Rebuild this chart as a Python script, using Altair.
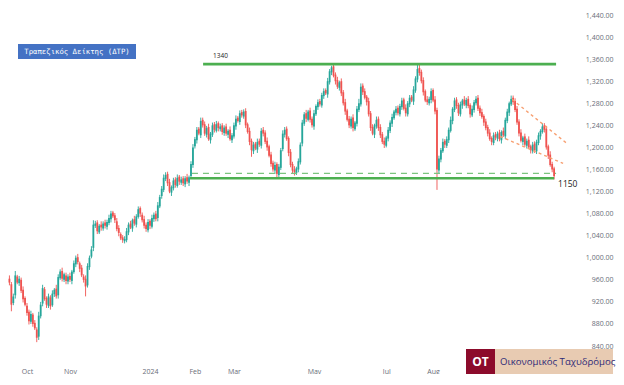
import altair as alt
import pandas as pd

# ---- candle data (trading-day index 5..284) ----
first_index = 5
opens = [
    962, 952, 918, 932, 966, 954, 960, 942, 927, 913,
    902, 884, 897, 882, 870, 857, 894, 917, 943, 927,
    913, 928, 914, 934, 944, 932, 963, 976, 960, 968,
    957, 967, 958, 974, 988, 1001, 990, 982, 966, 962,
    950, 983, 1002, 1018, 1058, 1064, 1046, 1060, 1053, 1064,
    1056, 1063, 1070, 1082, 1077, 1066, 1054, 1043, 1037, 1030,
    1032, 1046, 1062, 1053, 1070, 1060, 1074, 1090, 1078, 1070,
    1060, 1050, 1067, 1056, 1070, 1080, 1072, 1093, 1112, 1123,
    1143, 1152, 1137, 1118, 1126, 1142, 1130, 1147, 1136, 1144,
    1133, 1146, 1136, 1148, 1168, 1202, 1213, 1234, 1222, 1250,
    1242, 1223, 1237, 1213, 1223, 1242, 1230, 1244, 1233, 1240,
    1226, 1238, 1223, 1232, 1213, 1220, 1238, 1254, 1246, 1264,
    1256, 1266, 1242, 1230, 1212, 1193, 1207, 1196, 1212, 1203,
    1232, 1227, 1212, 1202, 1187, 1172, 1158, 1170, 1150, 1163,
    1197, 1223, 1234, 1217, 1192, 1170, 1160, 1153, 1160, 1173,
    1207, 1243, 1262, 1250, 1267, 1252, 1238, 1260, 1273, 1284,
    1276, 1293, 1304, 1296, 1318, 1336, 1347, 1332, 1322, 1308,
    1320, 1300, 1282, 1267, 1252, 1238, 1254, 1233, 1243, 1268,
    1278, 1312, 1302, 1292, 1284, 1262, 1237, 1223, 1238, 1252,
    1237, 1224, 1212, 1203, 1216, 1230, 1243, 1253, 1263, 1272,
    1260, 1273, 1287, 1272, 1260, 1278, 1292, 1283, 1303, 1323,
    1344, 1337, 1322, 1302, 1287, 1280, 1286, 1304, 1287, 1268,
    1158, 1178, 1193, 1212, 1203, 1213, 1230, 1248, 1268, 1287,
    1277, 1260, 1276, 1287, 1276, 1288, 1277, 1258, 1268, 1280,
    1290, 1272, 1264, 1257, 1247, 1237, 1227, 1217, 1208, 1224,
    1216, 1227, 1213, 1230, 1220, 1248, 1263, 1278, 1290, 1284,
    1270, 1247, 1227, 1210, 1220, 1203, 1214, 1202, 1193, 1207,
    1193, 1208, 1220, 1228, 1240, 1234, 1202, 1187, 1170, 1162,
]
closes = [
    955, 915, 930, 968, 955, 962, 940, 925, 915, 900,
    885, 898, 880, 872, 855, 895, 915, 945, 925, 915,
    930, 912, 935, 942, 930, 965, 975, 962, 970, 958,
    966, 960, 975, 990, 1000, 992, 980, 968, 960, 948,
    985, 1000, 1015, 1060, 1062, 1048, 1058, 1055, 1062, 1058,
    1065, 1072, 1080, 1075, 1068, 1052, 1045, 1035, 1032, 1034,
    1048, 1060, 1055, 1068, 1062, 1075, 1088, 1080, 1068, 1058,
    1052, 1065, 1058, 1072, 1078, 1070, 1095, 1110, 1125, 1145,
    1150, 1135, 1120, 1128, 1140, 1132, 1145, 1138, 1142, 1135,
    1144, 1138, 1146, 1170, 1200, 1215, 1232, 1225, 1248, 1240,
    1225, 1235, 1215, 1225, 1240, 1232, 1242, 1235, 1238, 1228,
    1236, 1225, 1230, 1215, 1222, 1240, 1252, 1248, 1262, 1258,
    1265, 1240, 1228, 1210, 1195, 1205, 1198, 1210, 1205, 1230,
    1225, 1210, 1200, 1185, 1170, 1160, 1168, 1152, 1165, 1195,
    1225, 1232, 1215, 1190, 1168, 1158, 1155, 1162, 1175, 1205,
    1245, 1260, 1252, 1265, 1250, 1240, 1262, 1275, 1282, 1278,
    1295, 1302, 1298, 1320, 1338, 1345, 1330, 1320, 1310, 1318,
    1298, 1280, 1265, 1250, 1240, 1252, 1235, 1245, 1270, 1280,
    1310, 1300, 1290, 1282, 1260, 1235, 1225, 1240, 1250, 1235,
    1222, 1210, 1205, 1218, 1232, 1245, 1255, 1265, 1270, 1262,
    1275, 1285, 1270, 1262, 1280, 1290, 1285, 1305, 1325, 1342,
    1335, 1320, 1300, 1285, 1282, 1288, 1302, 1285, 1265, 1160,
    1180, 1195, 1210, 1205, 1215, 1232, 1250, 1270, 1285, 1275,
    1262, 1278, 1285, 1278, 1286, 1275, 1260, 1270, 1282, 1288,
    1270, 1262, 1255, 1245, 1235, 1225, 1215, 1210, 1222, 1218,
    1225, 1215, 1228, 1222, 1250, 1265, 1280, 1288, 1282, 1268,
    1245, 1225, 1212, 1218, 1205, 1212, 1200, 1195, 1205, 1195,
    1210, 1222, 1230, 1238, 1232, 1200, 1185, 1168, 1160, 1148,
]
wick_hi = [
    6, 4, 5, 8, 3, 5, 4, 6, 3, 5,
    4, 6, 3, 5, 4, 7, 5, 6, 4, 3,
    5, 4, 6, 3, 7, 5, 4, 6, 3, 5,
    4, 6, 3, 5, 4, 6, 3, 5, 4, 6,
    5, 4, 6, 8, 5, 4, 3, 6, 4, 5,
    4, 6, 5, 3, 4, 6, 5, 3, 4, 5,
    6, 4, 5, 3, 6, 4, 5, 3, 4, 6,
    4, 5, 3, 6, 4, 5, 6, 4, 5, 6,
    5, 4, 6, 3, 5, 4, 6, 3, 5, 4,
    4, 6, 3, 5, 6, 4, 5, 3, 6, 4,
    5, 4, 6, 3, 5, 4, 6, 3, 5, 4,
    4, 5, 3, 6, 4, 5, 6, 3, 5, 4,
    4, 5, 3, 6, 4, 5, 3, 6, 4, 5,
    5, 4, 6, 3, 5, 4, 6, 3, 5, 4,
    6, 5, 4, 3, 5, 4, 6, 3, 5, 4,
    5, 4, 6, 3, 5, 4, 6, 3, 5, 4,
    4, 5, 3, 6, 4, 3, 5, 4, 6, 3,
    5, 4, 6, 3, 5, 4, 6, 3, 5, 8,
    6, 4, 5, 3, 6, 4, 5, 3, 6, 4,
    5, 4, 6, 3, 5, 4, 6, 3, 5, 4,
    4, 5, 3, 6, 4, 5, 3, 6, 4, 9,
    6, 4, 5, 3, 6, 4, 5, 3, 6, 4,
    5, 4, 6, 3, 5, 4, 6, 3, 5, 4,
    4, 5, 3, 6, 4, 5, 3, 6, 4, 5,
    5, 4, 6, 3, 5, 4, 6, 3, 5, 4,
    4, 5, 3, 6, 4, 5, 3, 6, 4, 5,
    5, 4, 6, 3, 5, 4, 6, 3, 5, 4,
    4, 5, 3, 6, 4, 5, 3, 6, 4, 3,
]
wick_lo = [
    5, 12, 4, 6, 3, 5, 4, 6, 3, 5,
    6, 4, 5, 3, 8, 6, 4, 5, 3, 6,
    4, 6, 3, 5, 4, 6, 3, 5, 4, 6,
    5, 4, 6, 3, 5, 4, 6, 3, 5, 18,
    4, 5, 3, 6, 4, 5, 3, 6, 4, 5,
    5, 4, 6, 3, 5, 4, 6, 3, 5, 4,
    4, 5, 3, 6, 4, 5, 3, 6, 4, 5,
    5, 4, 6, 3, 5, 4, 6, 3, 5, 4,
    4, 5, 3, 6, 4, 5, 3, 6, 4, 5,
    5, 4, 6, 3, 5, 4, 6, 3, 5, 4,
    4, 5, 3, 6, 4, 5, 3, 6, 4, 5,
    5, 4, 6, 3, 5, 4, 6, 3, 5, 4,
    4, 5, 3, 6, 12, 5, 3, 6, 4, 5,
    5, 4, 6, 3, 5, 4, 6, 9, 5, 4,
    4, 5, 3, 6, 4, 5, 6, 3, 5, 4,
    5, 4, 6, 3, 5, 4, 6, 3, 5, 4,
    4, 5, 3, 6, 4, 5, 3, 6, 4, 5,
    5, 4, 6, 3, 5, 4, 6, 3, 5, 4,
    4, 5, 3, 6, 4, 5, 3, 6, 4, 5,
    5, 4, 6, 3, 5, 4, 6, 3, 5, 4,
    4, 5, 3, 6, 4, 5, 3, 6, 4, 5,
    5, 4, 6, 3, 5, 4, 6, 3, 5, 37,
    6, 5, 3, 6, 4, 5, 3, 6, 4, 5,
    5, 4, 6, 3, 5, 4, 6, 3, 5, 4,
    4, 5, 3, 6, 4, 5, 3, 6, 4, 5,
    5, 4, 6, 3, 5, 4, 6, 3, 5, 4,
    4, 5, 3, 6, 4, 5, 3, 6, 4, 5,
    5, 4, 6, 3, 5, 4, 6, 3, 5, 6,
]

# ---- axis labels ----
month_pos = [14, 36, 77, 100, 120, 161, 198, 222]
month_lab = ["Oct", "Nov", "2024", "Feb", "Mar", "May", "Jul", "Aug"]
price_ticks = [840, 880, 920, 960, 1000, 1040, 1080, 1120, 1160, 1200,
               1240, 1280, 1320, 1360, 1400, 1440]

# ---- annotation levels ----
level_names = ["resistance", "support"]
level_x0 = [104.2, 97.5]
level_x1 = [285.0, 284.0]
level_y = [1351, 1144]
dash_x0 = [98.5]
dash_x1 = [285.0]
dash_y = [1153]
trend_x0 = [262.5, 256.3]
trend_y0 = [1287, 1220]
trend_x1 = [290.6, 288.6]
trend_y1 = [1207, 1171]
note_text = ["1340", "1150"]
note_x = [109.3, 286.0]
note_y = [1366, 1134]

title_text = "Τραπεζικός Δείκτης (ΔΤΡ)"
brand_mark = "ΟΤ"
brand_name = "Οικονομικός Ταχυδρόμος"

UP = "#26a69a"
DOWN = "#ef5350"

n = len(closes)
idx = list(range(first_index, first_index + n))
highs = [max(o, c) + w for o, c, w in zip(opens, closes, wick_hi)]
lows = [min(o, c) - w for o, c, w in zip(opens, closes, wick_lo)]
df = pd.DataFrame({"i": idx, "open": opens[:n], "close": closes,
                   "high": highs, "low": lows})
df["dir"] = ["up" if c >= o else "down" for o, c in zip(df["open"], df["close"])]

label_expr = " : ".join(f"datum.value == {p} ? '{l}'" for p, l in zip(month_pos, month_lab)) + " : ''"

PLOT_W, PLOT_H = 584, 358
xscale = alt.Scale(domain=[4.27, 303.4], nice=False, zero=False, padding=0)
yscale = alt.Scale(domain=[803.8, 1452.7], nice=False, zero=False, padding=0)
xaxis = alt.Axis(values=month_pos, labelExpr=label_expr, grid=False, domain=False,
                 ticks=False, tickSize=0, labelPadding=1, labelFontSize=7,
                 labelColor="#6a6d78", labelFont="Open Sans", labelFlush=False,
                 labelOverlap=False, title=None)
yaxis = alt.Axis(orient="right", values=price_ticks, format=",.2f", grid=False,
                 domain=False, ticks=False, tickSize=0, labelAlign="right",
                 labelPadding=21, labelFontSize=7, labelColor="#6a6d78",
                 labelFont="Open Sans", labelFlush=False, labelOverlap=False,
                 labelBaseline="middle", title=None)


def X(f):
    return alt.X(f, type="quantitative", scale=xscale, axis=xaxis, title=None)


def Y(f):
    return alt.Y(f, type="quantitative", scale=yscale, axis=yaxis, title=None)


color = alt.Color("dir:N", scale=alt.Scale(domain=["up", "down"], range=[UP, DOWN]), legend=None)

base = alt.Chart(df)
wicks = base.mark_rule(strokeWidth=0.9).encode(x=X("i"), y=Y("low"), y2="high", color=color)
bodies = base.mark_bar(size=1.8).encode(x=X("i"), y=Y("open"), y2="close", color=color)

lv = pd.DataFrame({"name": level_names, "x0": level_x0, "x1": level_x1, "y": level_y})
levels = alt.Chart(lv).mark_rule(color="#4caf50", strokeWidth=2.6).encode(
    x=X("x0"), x2="x1", y=Y("y"))

dv = pd.DataFrame({"x0": dash_x0, "x1": dash_x1, "y": dash_y})
dashed = alt.Chart(dv).mark_rule(color="#7cc47f", strokeWidth=1.4, strokeDash=[6, 5]).encode(
    x=X("x0"), x2="x1", y=Y("y"))

tv = pd.DataFrame({"x0": trend_x0, "y0": trend_y0, "x1": trend_x1, "y1": trend_y1})
trends = alt.Chart(tv).mark_rule(color="#f7a072", strokeWidth=1.4, strokeDash=[3, 3]).encode(
    x=X("x0"), x2="x1", y=Y("y0"), y2="y1")

nv = pd.DataFrame({"t": note_text, "x": note_x, "y": note_y, "s": [6.5, 8.5]})
notes = alt.Chart(nv).mark_text(align="left", baseline="middle", color="#222222",
                                font="Open Sans").encode(
    x=X("x"), y=Y("y"), text="t:N",
    size=alt.Size("s:Q", scale=None, legend=None))

# title badge
tb = alt.Chart(pd.DataFrame({"t": [title_text]}))
title_box = tb.mark_rect(color="#4472c4").encode(
    x=alt.value(10), x2=alt.value(128), y=alt.value(36), y2=alt.value(51))
title_txt = tb.mark_text(color="white", font="DejaVu Sans Mono", fontSize=7.3,
                         align="center", baseline="middle").encode(
    x=alt.value(69), y=alt.value(43.5), text="t:N")

# brand block (kept inside the page area)
bb = alt.Chart(pd.DataFrame({"a": [brand_mark], "b": [brand_name]}))
brand_red = bb.mark_rect(color="#8c0b2b").encode(
    x=alt.value(458), x2=alt.value(487), y=alt.value(341), y2=alt.value(366))
brand_beige = bb.mark_rect(color="#e8cbb2").encode(
    x=alt.value(487), x2=alt.value(605), y=alt.value(341), y2=alt.value(366))
brand_a = bb.mark_text(color="white", font="Open Sans", fontSize=12, fontWeight="bold",
                       align="center", baseline="middle").encode(
    x=alt.value(472.5), y=alt.value(353.5), text="a:N")
brand_b = bb.mark_text(color="#2e2a78", font="Open Sans", fontSize=9.6,
                       align="left", baseline="middle").encode(
    x=alt.value(492), y=alt.value(353.5), text="b:N")

chart = alt.layer(
    wicks, bodies, levels, dashed, trends, notes,
    title_box, title_txt, brand_red, brand_beige, brand_a, brand_b
).properties(width=PLOT_W, height=PLOT_H, padding=0, background="white").configure_view(stroke=None)

chart.save("out.html", embed_options={"renderer": "svg", "actions": False})
